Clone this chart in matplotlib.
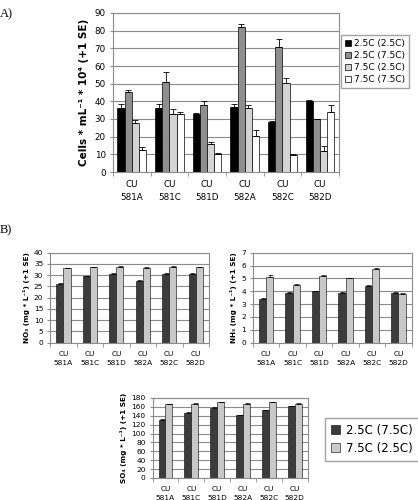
import numpy as np
import matplotlib
matplotlib.use('Agg')
import matplotlib.pyplot as plt

# --- DATA ---
sites = ["CU\n581A", "CU\n581C", "CU\n581D", "CU\n582A", "CU\n582C", "CU\n582D"]

cell_series = ["2.5C (2.5C)", "2.5C (7.5C)", "7.5C (2.5C)", "7.5C (7.5C)"]
cells_25_25 = [36.5, 36.0, 33.0, 37.0, 28.5, 40.0]
cells_25_75 = [45.0, 51.0, 38.0, 82.0, 70.5, 30.0]
cells_75_25 = [28.0, 33.0, 16.0, 36.0, 50.5, 12.0]
cells_75_75 = [12.5, 33.0, 10.0, 20.5, 9.7, 34.0]
cells_se_25_25 = [2.0, 2.5, 0.3, 1.5, 0.3, 1.0]
cells_se_25_75 = [1.5, 5.5, 2.0, 2.0, 5.0, 0.0]
cells_se_75_25 = [1.5, 2.5, 1.0, 2.0, 2.5, 2.5]
cells_se_75_75 = [1.5, 1.0, 1.0, 3.5, 0.5, 4.0]

nut_series = ["2.5C (7.5C)", "7.5C (2.5C)"]
no3_a = [26.0, 29.5, 30.7, 27.5, 30.6, 30.7]
no3_b = [33.0, 33.5, 33.8, 33.3, 33.8, 33.6]
no3_se_a = [0.4, 0.3, 0.2, 0.3, 0.2, 0.2]
no3_se_b = [0.2, 0.2, 0.2, 0.2, 0.2, 0.2]
nh3_a = [3.4, 3.9, 4.0, 3.9, 4.4, 3.9]
nh3_b = [5.1, 4.5, 5.2, 5.0, 5.75, 3.8]
nh3_se_a = [0.05, 0.05, 0.05, 0.05, 0.05, 0.03]
nh3_se_b = [0.15, 0.07, 0.05, 0.03, 0.05, 0.05]
so4_a = [131, 147, 158, 141, 152, 161]
so4_b = [166, 167, 170, 167, 170, 167]
so4_se_a = [1.5, 1.5, 1.0, 1.0, 1.5, 1.0]
so4_se_b = [1.0, 1.0, 1.0, 1.0, 1.0, 1.0]

GRID = '#8c8c8c'
TICKF = 6.3


def style_axes(ax, ymax, ystep, fs):
    ax.set_xlim(-0.5, len(sites) - 0.5)
    ax.set_ylim(0, ymax)
    ax.set_yticks(np.arange(0, ymax + 0.001, ystep))
    ax.yaxis.grid(True, color=GRID, linewidth=0.8)
    ax.set_axisbelow(True)
    for s in ax.spines.values():
        s.set_color(GRID)
        s.set_linewidth(0.8)
    # x ticks at category boundaries, labels at centres
    ax.set_xticks(np.arange(len(sites)))
    ax.set_xticklabels(sites, fontsize=fs, linespacing=1.5)
    ax.set_xticks(np.arange(-0.5, len(sites)), minor=True)
    ax.tick_params(axis='x', which='major', length=0, pad=6)
    ax.tick_params(axis='x', which='minor', length=3, color=GRID, direction='out')
    ax.tick_params(axis='y', length=2, color=GRID, labelsize=fs, pad=3)


fig = plt.figure(figsize=(4.18, 5.0), dpi=100)

# --- PANEL A ---
axA = fig.add_axes([0.270, 0.656, 0.541, 0.318])
x = np.arange(len(sites))
w = 0.19
vals = [cells_25_25, cells_25_75, cells_75_25, cells_75_75]
errs = [cells_se_25_25, cells_se_25_75, cells_se_75_25, cells_se_75_75]
colsA = ['black', '#8f8f8f', '#d4d4d4', 'white']
for i in range(4):
    pos = x + (i - 1.5) * w
    axA.bar(pos, vals[i], w, color=colsA[i], edgecolor='black', linewidth=0.5,
            label=cell_series[i], zorder=2)
    axA.errorbar(pos, vals[i], yerr=[np.zeros(6), errs[i]], fmt='none',
                 ecolor='black', elinewidth=0.6, capsize=2, capthick=0.6, zorder=3)
style_axes(axA, 90, 10, TICKF)
axA.set_ylabel('Cells * mL⁻¹ * 10⁴ (+1 SE)', fontsize=7.5, fontweight='bold', labelpad=4)
axA.legend(loc='upper left', bbox_to_anchor=(1.01, 0.86), fontsize=6.5, frameon=True,
           fancybox=False, edgecolor=GRID, handlelength=0.7, handleheight=0.7,
           handletextpad=0.3, borderpad=0.4, labelspacing=0.35, borderaxespad=0)

fig.text(0.0, 0.972, 'A)', fontsize=9, family='Liberation Serif', va='center')
fig.text(0.0, 0.540, 'B)', fontsize=9, family='Liberation Serif', va='center')

# --- PANEL B ---
colsB = ['#3c3c3c', '#c8c8c8']
wb = 0.27


def nutrient(rect, a, b, sea, seb, ymax, ystep, ylabel):
    ax = fig.add_axes(rect)
    for j, (v, e) in enumerate([(a, sea), (b, seb)]):
        pos = x + (j - 0.5) * wb
        ax.bar(pos, v, wb, color=colsB[j], edgecolor='black', linewidth=0.4,
               label=nut_series[j], zorder=2)
        ax.errorbar(pos, v, yerr=[np.zeros(6), e], fmt='none', ecolor='black',
                    elinewidth=0.5, capsize=1.8, capthick=0.5, zorder=3)
    style_axes(ax, ymax, ystep, 5.3)
    ax.set_ylabel(ylabel, fontsize=5.2, fontweight='bold', labelpad=3)
    return ax


nutrient([0.120, 0.3146, 0.380, 0.180], no3_a, no3_b, no3_se_a, no3_se_b,
         40, 5, 'NO₃ (mg * L⁻¹) (+1 SE)')
nutrient([0.605, 0.3146, 0.380, 0.180], nh3_a, nh3_b, nh3_se_a, nh3_se_b,
         7, 1, 'NH₃ (mg * L⁻¹) (+1 SE)')
axS = nutrient([0.365, 0.044, 0.371, 0.160], so4_a, so4_b, so4_se_a, so4_se_b,
               180, 20, 'SO₄ (mg * L⁻¹) (+1 SE)')
axS.legend(loc='upper left', bbox_to_anchor=(1.11, 0.75), fontsize=8.5, frameon=True,
           fancybox=False, edgecolor=GRID, handlelength=0.8, handleheight=0.8,
           handletextpad=0.5, borderpad=0.5, labelspacing=0.4, borderaxespad=0)

fig.savefig('out.png', dpi=100)
